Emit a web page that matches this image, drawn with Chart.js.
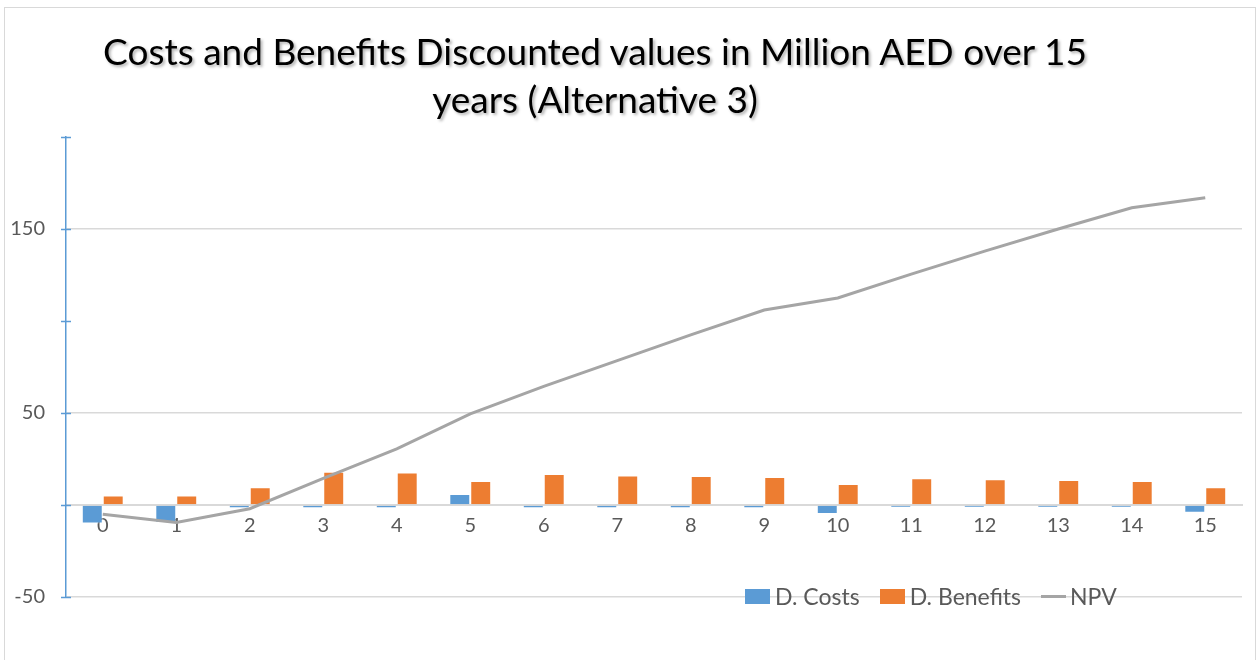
<!DOCTYPE html>
<html>
<head>
<meta charset="utf-8">
<script src="https://cdn.jsdelivr.net/npm/chart.js@4/dist/chart.umd.min.js"></script>
<style>
  body { margin: 0; background: #fff; }
  #wrap { position: relative; width: 1259px; height: 660px; overflow: hidden; font-family: Lato, "Open Sans", sans-serif; }
  #frame { position: absolute; left: 4px; top: 7px; width: 1252px; height: 700px; border: 1px solid #d9d9d9; box-sizing: border-box; }
  #title { position: absolute; left: 0; top: 27px; width: 1190px; text-align: center; font-size: 37px; line-height: 48px; color: #000; text-shadow: 2px 2px 3px rgba(0,0,0,0.3); }
  #legend { position: absolute; left: 745px; top: 582px; display: flex; align-items: center; font-size: 23px; color: #595959; }
  #legend .item { display: flex; align-items: center; margin-right: 20px; }
  #legend .box { width: 25px; height: 15px; margin-right: 5px; }
  #legend .line { width: 25px; height: 3px; margin-right: 4px; }
  canvas { position: absolute; left: 0; top: 0; }
</style>
</head>
<body>
<div id="wrap">
  <div id="frame"></div>
  <canvas id="performanceChart" width="1259" height="660"></canvas>
  <div id="title">Costs and Benefits Discounted values in Million AED over 15<br>years (Alternative 3)</div>
  <div id="legend"></div>
</div>
<script>
const years = ['0', '1', '2', '3', '4', '5', '6', '7', '8', '9', '10', '11', '12', '13', '14', '15'];
const costs = [-10, -9.6, -1.8, -1.8, -1.8, 6, -1.8, -1.8, -1.8, -1.8, -4.9, -1.5, -1.5, -1.5, -1.5, -4.2];
const benefits = [5.1, 5.1, 9.6, 18.1, 17.6, 13, 16.8, 16.1, 15.8, 15.2, 11.4, 14.5, 14, 13.6, 13, 9.6];
const npv = [-5, -9.5, -2, 14.5, 30.5, 49.5, 64.5, 78.5, 92.5, 106, 112.5, 125.5, 138, 150, 161.5, 167];
const labeledTicks = [-50, 50, 150];

const blue = '#5B9BD5';
const orange = '#ED7D31';
const gray = '#A5A5A5';

// tick marks crossing the value axis, like excel does
const crossTicks = {
  id: 'crossTicks',
  afterDraw(chart) {
    const y = chart.scales.y;
    const ctx = chart.ctx;
    ctx.save();
    ctx.strokeStyle = blue;
    ctx.lineWidth = 1.5;
    y.ticks.forEach(function (t) {
      const py = Math.round(y.getPixelForValue(t.value)) + 0.5;
      ctx.beginPath();
      ctx.moveTo(y.right - 5, py);
      ctx.lineTo(y.right + 5, py);
      ctx.stroke();
    });
    ctx.restore();
  }
};

const chart = new Chart(document.getElementById('performanceChart'), {
  type: 'bar',
  data: {
    labels: years,
    datasets: [
      {
        label: 'D. Costs',
        data: costs,
        backgroundColor: blue,
        borderColor: 'rgba(255,255,255,0.5)',
        borderWidth: 1,
        categoryPercentage: 0.57,
        barPercentage: 1
      },
      {
        label: 'D. Benefits',
        data: benefits,
        backgroundColor: orange,
        borderColor: 'rgba(255,255,255,0.5)',
        borderWidth: 1,
        categoryPercentage: 0.57,
        barPercentage: 1
      },
      {
        type: 'line',
        label: 'NPV',
        data: npv,
        borderColor: gray,
        backgroundColor: gray,
        borderWidth: 3,
        pointRadius: 0,
        tension: 0,
        order: -1
      }
    ]
  },
  options: {
    responsive: false,
    animation: false,
    layout: { padding: { top: 137, left: 0, right: 17, bottom: 63 } },
    plugins: {
      legend: { display: false },
      title: { display: false },
      tooltip: { enabled: false }
    },
    scales: {
      x: {
        position: { y: 0 },
        afterFit: function (scale) { scale.height = 0; },
        grid: { display: false, drawTicks: false },
        border: { color: '#d9d9d9', width: 2 },
        ticks: {
          color: '#595959',
          font: { family: 'Lato', size: 20 },
          padding: 9,
          maxRotation: 0
        }
      },
      y: {
        min: -50,
        max: 200,
        afterFit: function (scale) { scale.width = 66; },
        grid: {
          drawTicks: false,
          color: function (c) {
            return c.tick && labeledTicks.includes(c.tick.value) ? '#d9d9d9' : 'transparent';
          },
          lineWidth: 1.5
        },
        border: { color: blue, width: 1.5 },
        ticks: {
          stepSize: 50,
          color: '#595959',
          font: { family: 'Lato', size: 20 },
          padding: 21,
          callback: function (v) { return labeledTicks.includes(v) ? v : ''; }
        }
      }
    }
  },
  plugins: [crossTicks]
});

// legend built from the datasets
const legend = document.getElementById('legend');
chart.data.datasets.forEach(function (ds) {
  const item = document.createElement('div');
  item.className = 'item';
  const mark = document.createElement('span');
  mark.className = ds.type === 'line' ? 'line' : 'box';
  mark.style.background = ds.type === 'line' ? ds.borderColor : ds.backgroundColor;
  const txt = document.createElement('span');
  txt.textContent = ds.label;
  item.appendChild(mark);
  item.appendChild(txt);
  legend.appendChild(item);
});
</script>
</body>
</html>
